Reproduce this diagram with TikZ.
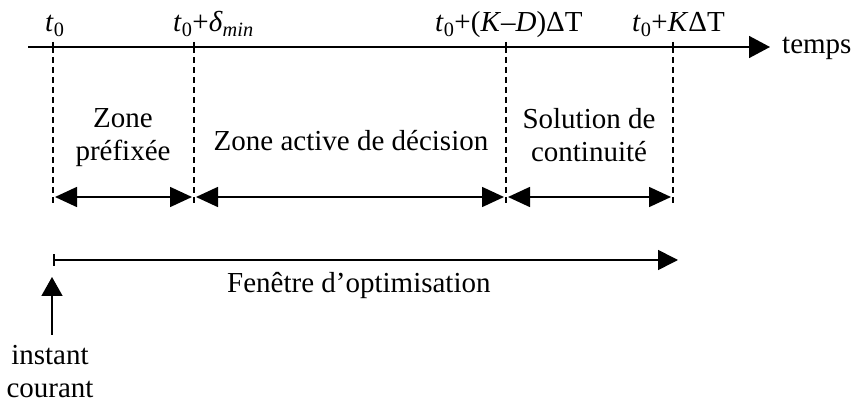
\documentclass[tikz,border=0pt]{standalone}
\usepackage{fontspec}
\setmainfont{Liberation Serif}
\usetikzlibrary{arrows.meta}
\newcommand{\tzero}{\textit{t}\textsubscript{0}}

\begin{document}
\begin{tikzpicture}[x=1pt, y=-1pt,
  every node/.style={font=\fontsize{29}{33}\selectfont, inner sep=0pt},
  axis/.style={line width=1.6pt, -{Triangle[length=21pt,width=22pt]}},
  tick/.style={line width=1.6pt},
  guide/.style={line width=1.4pt, dash pattern=on 6pt off 4pt},
  span/.style={line width=1.6pt, {Triangle[length=22pt,width=20pt]}-{Triangle[length=22pt,width=20pt]}, shorten <=2pt, shorten >=2pt},
  window/.style={line width=1.6pt, {Bar[width=12pt]}-{Triangle[length=20pt,width=20pt]}},
  stamp/.style={anchor=base west},
  zone/.style={align=center, anchor=base},
]
  \useasboundingbox (0,0) rectangle (865,403);

  % time axis and instants
  \coordinate (ax0) at (28,47);
  \coordinate (ax1) at (770,47);
  \coordinate (t0) at (53,47);
  \coordinate (tmin) at (194,47);
  \coordinate (tkd) at (506,47);
  \coordinate (tk) at (673,47);
  \coordinate (gbot) at (0,205);
  \coordinate (sy) at (0,197);

  \draw[axis] (ax0) -- (ax1);
  \node[stamp] (temps) at (782,54) {temps};

  \foreach \c in {t0,tmin,tkd,tk} {
    \draw[tick] ([yshift=5pt]\c) -- ([yshift=-6pt]\c);
    \draw[guide] (\c) -- (\c |- gbot);
  }

  \node[stamp] (lt0) at (45,32) {\tzero};
  \node[stamp] (lmin) at (173,32) {\tzero+\textit{δ}\textsubscript{\textit{min}}};
  \node[stamp] (lkd) at (435,32) {\tzero+(\textit{K}–\textit{D})ΔT};
  \node[stamp] (lk) at (632,32) {\tzero+\textit{K}ΔT};

  % zones (base = last line)
  \node[zone] (zpre) at (123,161) {Zone\\préfixée};
  \node[zone] (zact) at (351,151) {Zone active de décision};
  \node[zone] (zcont) at (589,162) {Solution de\\continuité};

  \draw[span] (t0 |- sy) -- (tmin |- sy);
  \draw[span] (tmin |- sy) -- (tkd |- sy);
  \draw[span] (tkd |- sy) -- (tk |- sy);

  % optimisation window
  \coordinate (w0) at (53,260);
  \coordinate (w1) at (678,260);
  \draw[window] (w0) -- (w1);
  \node[stamp] (fen) at (227,293) {Fenêtre d’optimisation};

  % current instant
  \node[zone] (now) at (50,397) {instant\\courant};
  \coordinate (nowtop) at (52,277);
  \coordinate (nowbot) at (52,335);
  \draw[line width=1.6pt, -{Triangle[length=19pt,width=21pt]}] (nowbot) -- (nowtop);
\end{tikzpicture}
\end{document}
